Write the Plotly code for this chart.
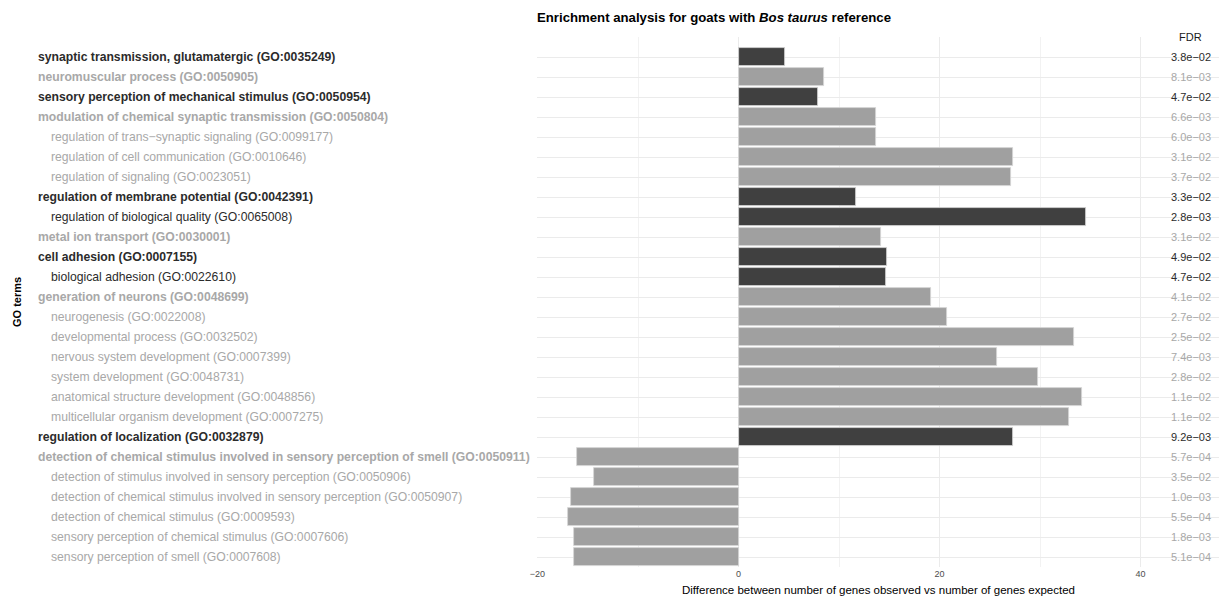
import plotly.graph_objects as go

# ---------------- data ----------------
terms = [
    "synaptic transmission, glutamatergic",
    "neuromuscular process",
    "sensory perception of mechanical stimulus",
    "modulation of chemical synaptic transmission",
    "regulation of trans\u2212synaptic signaling",
    "regulation of cell communication",
    "regulation of signaling",
    "regulation of membrane potential",
    "regulation of biological quality",
    "metal ion transport",
    "cell adhesion",
    "biological adhesion",
    "generation of neurons",
    "neurogenesis",
    "developmental process",
    "nervous system development",
    "system development",
    "anatomical structure development",
    "multicellular organism development",
    "regulation of localization",
    "detection of chemical stimulus involved in sensory perception of smell",
    "detection of stimulus involved in sensory perception",
    "detection of chemical stimulus involved in sensory perception",
    "detection of chemical stimulus",
    "sensory perception of chemical stimulus",
    "sensory perception of smell",
]
go_ids = [
    "GO:0035249", "GO:0050905", "GO:0050954", "GO:0050804", "GO:0099177",
    "GO:0010646", "GO:0023051", "GO:0042391", "GO:0065008", "GO:0030001",
    "GO:0007155", "GO:0022610", "GO:0048699", "GO:0022008", "GO:0032502",
    "GO:0007399", "GO:0048731", "GO:0048856", "GO:0007275", "GO:0032879",
    "GO:0050911", "GO:0050906", "GO:0050907", "GO:0009593", "GO:0007606",
    "GO:0007608",
]
# parent term (bold, not indented) or child term (indented)
is_parent = [
    True, True, True, True, False, False, False, True, False, True,
    True, False, True, False, False, False, False, False, False, True,
    True, False, False, False, False, False,
]
# highlighted group (dark) vs other (light grey)
highlight = [
    True, False, True, False, False, False, False, True, True, False,
    True, True, False, False, False, False, False, False, False, True,
    False, False, False, False, False, False,
]
diff_values = [
    4.6, 8.5, 7.9, 13.7, 13.7, 27.3, 27.1, 11.7, 34.6, 14.2,
    14.8, 14.7, 19.2, 20.7, 33.4, 25.7, 29.8, 34.2, 32.9, 27.3,
    -16.1, -14.4, -16.7, -17.0, -16.4, -16.4,
]
fdr = [
    "3.8e\u221202", "8.1e\u221203", "4.7e\u221202", "6.6e\u221203", "6.0e\u221203",
    "3.1e\u221202", "3.7e\u221202", "3.3e\u221202", "2.8e\u221203", "3.1e\u221202",
    "4.9e\u221202", "4.7e\u221202", "4.1e\u221202", "2.7e\u221202", "2.5e\u221202",
    "7.4e\u221203", "2.8e\u221202", "1.1e\u221202", "1.1e\u221202", "9.2e\u221203",
    "5.7e\u221204", "3.5e\u221202", "1.0e\u221203", "5.5e\u221204", "1.8e\u221203",
    "5.1e\u221204",
]
x_ticks = [-20, 0, 20, 40]
fdr_x = 45  # data position of FDR column

# ---------------- style ----------------
FONT = "Liberation Sans, Arial, Helvetica, sans-serif"
BAR_DARK, BAR_LIGHT = "#404040", "#a0a0a0"
TXT_DARK, TXT_LIGHT = "#2b2b2b", "#a8a8a8"
W, H = 1219, 597
ML, MR, MT, MB = 537, 0, 37, 30
plot_w = W - ML - MR
plot_h = H - MT - MB

rows = list(range(1, len(terms) + 1))

fig = go.Figure()
fig.add_trace(go.Bar(
    x=diff_values,
    y=rows,
    orientation="h",
    width=0.88,
    marker=dict(
        color=[BAR_DARK if h else BAR_LIGHT for h in highlight],
        line=dict(color="#d6d6d6", width=0.8),
    ),
    hoverinfo="skip",
))

annotations = []
for r, t, g, p, h, f in zip(rows, terms, go_ids, is_parent, highlight, fdr):
    col = TXT_DARK if h else TXT_LIGHT
    lbl = f"{t} ({g})"
    if p:
        lbl = f"<b>{lbl}</b>"
    px = 36 if p else 49
    annotations.append(dict(
        x=(px - ML) / plot_w, xref="paper", y=r, yref="y",
        text=lbl, showarrow=False, xanchor="left", yanchor="middle",
        font=dict(family=FONT, size=12.2, color=col),
    ))
    annotations.append(dict(
        x=fdr_x, xref="x", y=r, yref="y", text=f, showarrow=False,
        xanchor="center", yanchor="middle",
        font=dict(family=FONT, size=11, color=col),
    ))

annotations.append(dict(
    x=fdr_x, xref="x", y=0, yref="y", text="FDR", showarrow=False,
    xanchor="center", yanchor="middle",
    font=dict(family=FONT, size=11, color="#1a1a1a"),
))
annotations.append(dict(
    x=(17 - ML) / plot_w, xref="paper", y=0.5, yref="paper", text="<b>GO terms</b>",
    textangle=-90, showarrow=False, xanchor="center", yanchor="middle",
    font=dict(family=FONT, size=11, color="#000000"),
))
annotations.append(dict(
    x=0.5, xref="paper", y=-(590 - (MT + plot_h)) / plot_h, yref="paper",
    text="Difference between number of genes observed vs number of genes expected",
    showarrow=False, xanchor="center", yanchor="middle",
    font=dict(family=FONT, size=11.5, color="#000000"),
))

fig.update_layout(
    width=W, height=H,
    margin=dict(l=ML, r=MR, t=MT, b=MB),
    paper_bgcolor="white", plot_bgcolor="white",
    showlegend=False,
    bargap=0,
    title=dict(
        text="<b>Enrichment analysis for goats with <i>Bos taurus</i> reference</b>",
        x=0, xref="paper", xanchor="left",
        y=1 - 17 / H, yref="container", yanchor="middle",
        font=dict(family=FONT, size=13.2, color="#000000"),
    ),
    annotations=annotations,
    xaxis=dict(
        range=[-20.05, -20.05 + plot_w / 10.05],
        tickvals=x_ticks,
        ticktext=[("\u2212" + str(-v)) if v < 0 else str(v) for v in x_ticks],
        showgrid=True, gridcolor="#ebebeb", gridwidth=1.3,
        minor=dict(dtick=10, tick0=0, showgrid=True, gridcolor="#f2f2f2", gridwidth=0.7),
        zeroline=False, showline=False, ticks="",
        tickfont=dict(family=FONT, size=9, color="#4d4d4d"),
        fixedrange=True,
    ),
    yaxis=dict(
        range=[len(terms) + 0.5, 0],
        tickvals=rows,
        showticklabels=False,
        showgrid=True, gridcolor="#ebebeb", gridwidth=1.3,
        zeroline=False, showline=False, ticks="",
        fixedrange=True,
    ),
)

fig.write_html(
    "out.html",
    config={"displayModeBar": False},
    post_script="document.body.style.margin='0px';document.body.style.overflow='hidden';",
)
